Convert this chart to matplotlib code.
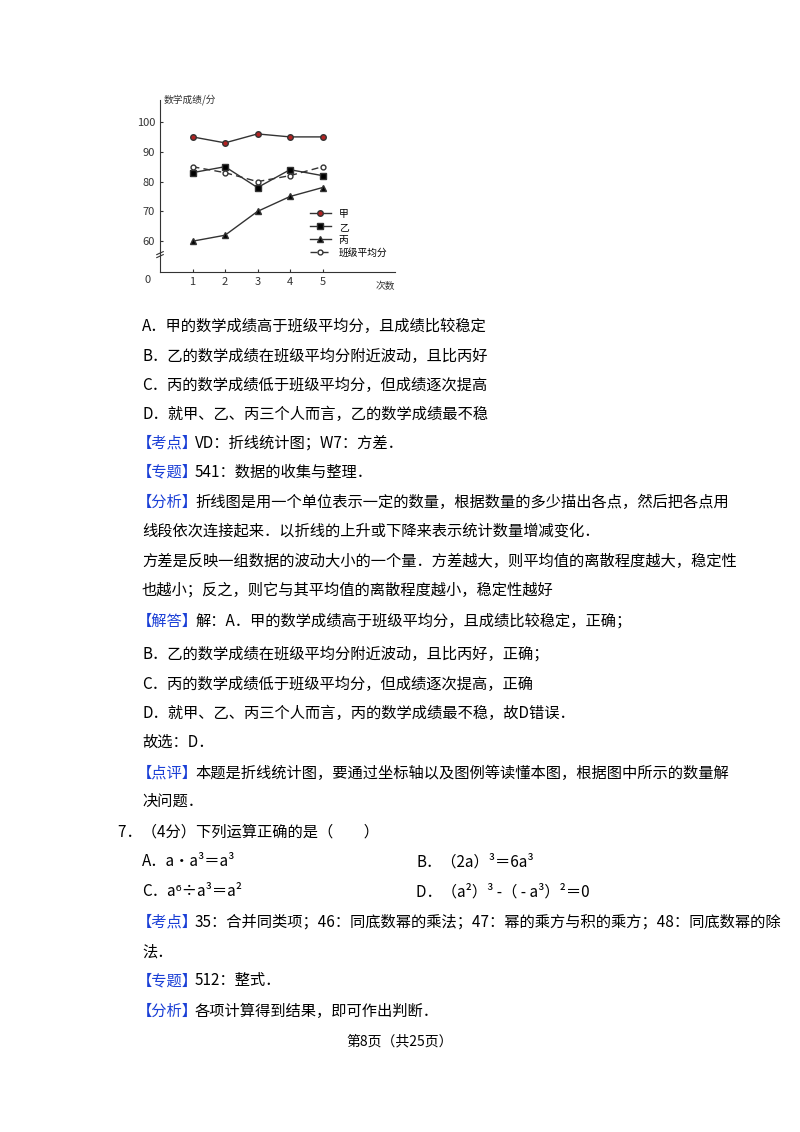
import matplotlib
matplotlib.use("Agg")
import matplotlib.pyplot as plt

times = [1, 2, 3, 4, 5]
jia = [95, 93, 96, 95, 95]
yi = [83, 85, 78, 84, 82]
bing = [60, 62, 70, 75, 78]
avg = [85, 83, 80, 82, 85]
yticks = [60, 70, 80, 90, 100]

FAM = ['Noto Sans CJK SC', 'DejaVu Sans']
plt.rcParams['font.family'] = FAM
W, H = 800, 1132
fig = plt.figure(figsize=(8, 11.32), dpi=100)

ax = fig.add_axes([160 / W, 1 - 272 / H, (395 - 160) / W, (272 - 100) / H])
x_max = (395 - 160) / 32.5
y_lo = 100 - (272 - 122) / 2.98
y_hi = 100 + (122 - 100) / 2.98
ax.set_xlim(0, x_max)
ax.set_ylim(y_lo, y_hi)
for s in ['top', 'right']:
    ax.spines[s].set_visible(False)
ax.spines['left'].set_color('#333')
ax.spines['bottom'].set_color('#333')
ax.set_xticks(times)
ax.set_xticklabels([str(t) for t in times])
ax.set_yticks(yticks)
ax.tick_params(labelsize=8, length=2, colors='#333', direction='in')
ax.plot(times, jia, color='#333', lw=1, marker='o', mfc='#b22222', mec='#333', ms=4, label='甲')
ax.plot(times, yi, color='#333', lw=1, marker='s', mfc='black', ms=4, label='乙')
ax.plot(times, bing, color='#333', lw=1, marker='^', mfc='black', ms=4, label='丙')
ax.plot(times, avg, color='#333', lw=1, ls=(0, (5, 3)), marker='o', mfc='white', ms=3.5, label='班级平均分')
ax.legend(loc='lower left', bbox_to_anchor=(4.6, 54.5), bbox_transform=ax.transData,
          frameon=False, fontsize=7, handlelength=2.2, labelspacing=0.3, borderaxespad=0, borderpad=0)
ax.text(-0.3, y_lo - 1, '0', fontsize=8, ha='right', va='top', color='#333')
ax.text(x_max, y_lo - 3, '次数', fontsize=7, ha='right', va='top', color='#333')
ax.text(0.1, y_hi, '数学成绩/分', fontsize=7, ha='left', va='center', color='#333')
ax.plot([-0.1, 0.1], [55.5, 56.5], color='#333', lw=0.8, clip_on=False)
ax.plot([-0.1, 0.1], [54.5, 55.5], color='#333', lw=0.8, clip_on=False)

BLUE = '#1a3fd6'
FS = 11

def t(x, y, s, color='black', **kw):
    fig.text(x / W, 1 - y / H, s, fontsize=FS, color=color, va='center', ha='left', family=FAM, **kw)

def tag(y, label, rest, x=137):
    t(x, y, '【' + label + '】', color=BLUE)
    t(x + 58, y, rest)

t(142, 326, 'A．甲的数学成绩高于班级平均分，且成绩比较稳定')
t(142, 356, 'B．乙的数学成绩在班级平均分附近波动，且比丙好')
t(142, 385, 'C．丙的数学成绩低于班级平均分，但成绩逐次提高')
t(142, 414, 'D．就甲、乙、丙三个人而言，乙的数学成绩最不稳')
tag(443, '考点', 'VD：折线统计图；W7：方差．')
tag(472, '专题', '541：数据的收集与整理．')
tag(502, '分析', '折线图是用一个单位表示一定的数量，根据数量的多少描出各点，然后把各点用')
t(142, 531, '线段依次连接起来．以折线的上升或下降来表示统计数量增减变化．')
t(142, 561, '方差是反映一组数据的波动大小的一个量．方差越大，则平均值的离散程度越大，稳定性')
t(142, 590, '也越小；反之，则它与其平均值的离散程度越小，稳定性越好')
tag(621, '解答', '解：A．甲的数学成绩高于班级平均分，且成绩比较稳定，正确；')
t(142, 654, 'B．乙的数学成绩在班级平均分附近波动，且比丙好，正确；')
t(142, 684, 'C．丙的数学成绩低于班级平均分，但成绩逐次提高，正确')
t(142, 713, 'D．就甲、乙、丙三个人而言，丙的数学成绩最不稳，故D错误．')
t(142, 742, '故选：D．')
tag(773, '点评', '本题是折线统计图，要通过坐标轴以及图例等读懂本图，根据图中所示的数量解')
t(142, 801, '决问题．')
t(118, 832, '7．（4分）下列运算正确的是（　　）')
t(142, 862, 'A．a•a³＝a³')
t(416, 862, 'B．（2a）³＝6a³')
t(142, 892, 'C．a⁶÷a³＝a²')
t(416, 892, 'D．（a²）³ -（ - a³）²＝0')
tag(922, '考点', '35：合并同类项；46：同底数幂的乘法；47：幂的乘方与积的乘方；48：同底数幂的除')
t(142, 952, '法．')
tag(981, '专题', '512：整式．')
tag(1011, '分析', '各项计算得到结果，即可作出判断．')
fig.text(0.5, 1 - 1041 / H, '第8页（共25页）', fontsize=10, ha='center', va='center', family=FAM)

fig.savefig('out.png', dpi=100, facecolor='white')
